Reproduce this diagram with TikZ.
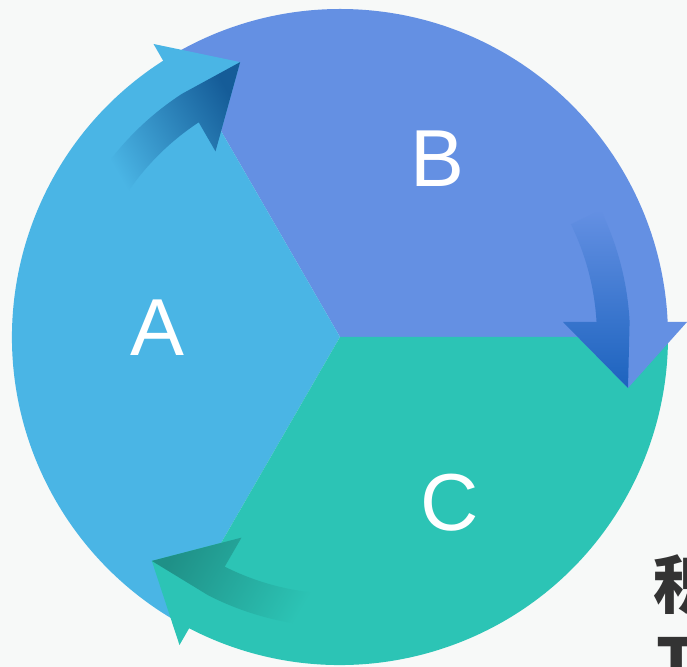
\documentclass[tikz,border=0pt]{standalone}
\usepackage{fontspec}
\setmainfont{Liberation Sans}
\newfontfamily\cjk{Noto Sans CJK SC}

\definecolor{bgcol}{HTML}{F7F9F8}
\definecolor{colA}{HTML}{4AB5E5}
\definecolor{colB}{HTML}{6490E3}
\definecolor{colC}{HTML}{2CC4B5}
\definecolor{midA}{HTML}{1C8DCA}
\definecolor{darkA}{HTML}{155C98}
\definecolor{midB}{HTML}{2858D6}
\definecolor{darkB}{HTML}{1C63BE}
\definecolor{midC}{HTML}{23A99D}
\definecolor{darkC}{HTML}{1F9087}
\definecolor{textgray}{HTML}{333333}

\begin{document}
\begin{tikzpicture}[
    letter/.style={text=white, font=\fontsize{23}{27}\selectfont},
    sidetext/.style={anchor=north west, inner sep=0, text=textgray, font=\cjk\bfseries\fontsize{18}{22}\selectfont},
]
    \useasboundingbox (-3.40, -3.30) rectangle (3.47, 3.37);
    \clip (-3.40, -3.30) rectangle (3.47, 3.37);
    \fill[bgcol] (-3.40, -3.30) rectangle (3.47, 3.37);

    % wedges
    \foreach \ang/\col in {0/colB, 120/colA, 240/colC}
        \fill[\col, rotate=\ang] (0, 0) -- (0:3.28) arc (0:120:3.28) -- cycle;

    % arrow heads
    \foreach \ang/\col in {0/colB, 120/colA, 240/colC}
        \fill[\col, rotate=\ang] (2.23, 0.15) -- (3.47, 0.15) -- (2.88, -0.51) -- cycle;

    % dark arrows
    \foreach \ang/\col/\midcol/\darkcol in {0/colB/midB/darkB, 120/colA/midA/darkA, 240/colC/midC/darkC}
        \shade[rotate=\ang, top color=\col, middle color=\midcol, bottom color=\darkcol, shading angle=\ang]
            (26:2.90) arc (26:3:2.90) -- (2.88, -0.51) -- (2.23, 0.15) -- (3.35:2.57) arc (3.35:26:2.57) -- cycle;

    \node[letter] (labA) at (-1.83, 0.09) {A};
    \node[letter] (labB) at (0.97, 1.78) {B};
    \node[letter] (labC) at (1.10, -1.66) {C};

    \node[sidetext] (sideA) at (3.13, -2.17) {积};
    \node[sidetext] (sideB) at (3.16, -3.00) {T};
\end{tikzpicture}
\end{document}
